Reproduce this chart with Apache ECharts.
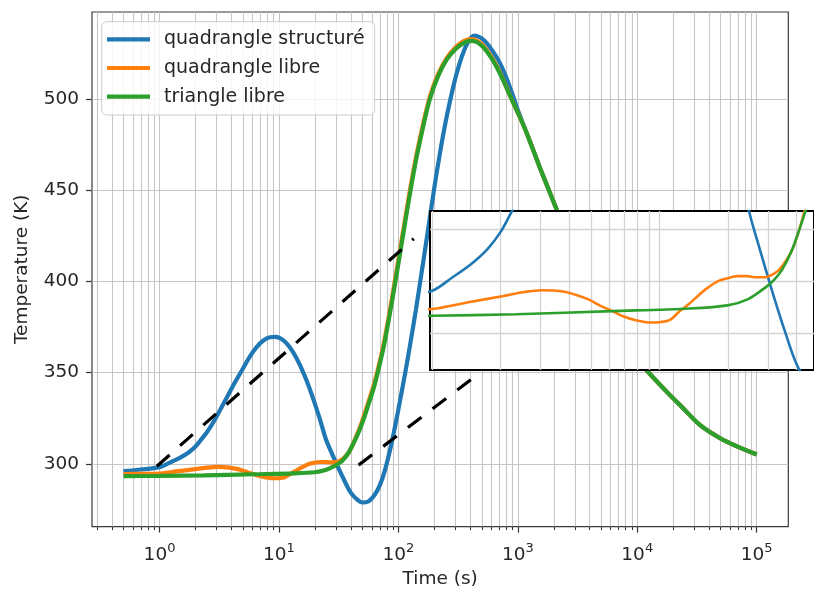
<!DOCTYPE html>
<html><head><meta charset="utf-8">
<script src="https://cdn.jsdelivr.net/npm/echarts@6/dist/echarts.min.js"></script>
<style>html,body{margin:0;padding:0;background:#fff}#c{width:814px;height:594px}</style>
</head><body><div id="c"></div>
<script>
// ---- data ----
const seriesNames = ['quadrangle structuré', 'quadrangle libre', 'triangle libre'];
const seriesColors = ['#1f77b4', '#ff7f0e', '#2ca02c'];

const blueTime = [0.5, 0.7, 1.0, 1.23, 1.49, 1.75, 2.0, 2.2, 2.5, 2.82, 3.2, 3.65, 4.25, 5.0, 5.7, 6.5, 7.4, 8.4, 9.4, 10.5, 11.6, 13.2, 15, 17, 19.4, 22, 24.8, 27.5, 31.3, 35.6, 39.9, 45, 50, 56, 63, 70, 77, 86, 94, 103, 114, 125, 140, 152, 178, 200, 222, 245, 270, 300, 327, 355, 384, 410, 437, 490, 547, 620, 707, 800, 886, 1000, 1184, 1528, 2110, 2979, 4217, 5957, 8433, 11950, 17600, 24200, 33400, 49100, 67700, 100000];
const blueTemp = [296.0, 296.9, 298.2, 300.8, 303.4, 306.2, 309.5, 312.8, 317.5, 322.8, 329.3, 336.2, 344.3, 352.3, 358.8, 364.0, 367.6, 369.4, 369.6, 368.4, 366.0, 361.0, 354.1, 345.8, 335.5, 324.5, 313.2, 306.3, 298.0, 290.3, 284.2, 280.5, 278.8, 279.4, 282.8, 288.3, 296.3, 308.8, 320.8, 334.2, 349.8, 364.8, 384.3, 399.4, 429.2, 451.5, 469.7, 485.3, 498.6, 511.4, 520.0, 526.6, 531.4, 534.0, 534.8, 533.6, 530.8, 526.0, 519.8, 511.8, 504.0, 494.0, 481.5, 462.5, 439.6, 415.9, 395.4, 377.9, 363.3, 351.4, 339.6, 330.5, 321.4, 314.2, 309.7, 305.1];

const orangeTime = [0.5, 0.7, 1.0, 1.44, 2.06, 2.5, 3.04, 3.69, 4.3, 4.94, 5.5, 6.19, 6.9, 7.77, 9.14, 10.1, 11.1, 12.2, 13.4, 14.8, 16.3, 18, 19.9, 21.9, 24.2, 26.6, 29, 31.3, 33.5, 35.6, 38, 40.8, 44, 47.5, 51.2, 56, 62.1, 68, 75.3, 81.5, 88.4, 96, 103.7, 115, 128, 142, 162, 183.5, 215, 253, 300, 348, 396, 450, 513, 600, 707, 800, 886, 1000, 1184, 1528, 2110, 2979, 4217, 5957, 8433, 11950, 17600, 24200, 33400, 49100, 67700, 100000];
const orangeTemp = [294.4, 294.5, 294.7, 296.0, 297.2, 297.9, 298.3, 298.1, 297.4, 296.4, 295.3, 294.3, 293.3, 292.6, 292.1, 292.2, 292.6, 294.2, 295.6, 297.3, 298.8, 300.0, 300.6, 301.0, 301.0, 300.8, 300.8, 301.3, 302.2, 303.7, 305.8, 309.5, 314.5, 319.8, 325.8, 333.8, 343.0, 353.0, 365.8, 377.8, 391.0, 405.0, 418.2, 436.0, 454.0, 469.8, 487.0, 501.3, 513.6, 522.3, 528.3, 531.6, 532.9, 532.2, 529.3, 523.2, 514.6, 506.8, 500.0, 492.5, 481.5, 462.5, 439.6, 415.9, 395.4, 377.9, 363.3, 351.4, 339.6, 330.5, 321.4, 314.2, 309.7, 305.1];

const greenTime = [0.5, 1.0, 2.34, 6.19, 13.5, 19.9, 24.5, 29.3, 32, 34.5, 38, 40.8, 44, 47.5, 51.2, 56, 62.1, 68, 75.3, 81.5, 88.4, 96, 103.7, 115, 128, 142, 162, 183.5, 215, 253, 300, 348, 396, 450, 513, 600, 707, 800, 886, 1000, 1184, 1528, 2110, 2979, 4217, 5957, 8433, 11950, 17600, 24200, 33400, 49100, 67700, 100000];
const greenTemp = [293.3, 293.4, 293.7, 294.3, 294.8, 295.4, 296.6, 298.9, 300.4, 302.2, 305.8, 309.5, 313.8, 318.8, 324.5, 332.3, 341.5, 351.5, 364.0, 376.0, 389.0, 402.8, 416.0, 434.0, 452.0, 468.0, 485.5, 500.0, 512.5, 521.4, 527.3, 530.5, 531.9, 531.3, 528.5, 522.5, 514.1, 506.5, 500.0, 492.5, 481.5, 462.5, 439.6, 415.9, 395.4, 377.9, 363.3, 351.4, 339.6, 330.5, 321.4, 314.2, 309.7, 305.1];

// dashed connector lines of the zoom inset
const connector1Time = [0.95, 134.5];
const connector1Temp = [298.7, 423.4];
const connector2Time = [46.4, 437];
const connector2Temp = [299.3, 347.8];

// ticks
const xMajorTicks = [1, 10, 100, 1000, 10000, 100000];
const yMajorTicks = [300, 350, 400, 450, 500];
const insetYTicks = [290, 300, 310];
const xMinorTicks = [];
for (let e = -1; e <= 4; e++) {
  for (let m = 2; m <= 9; m++) {
    const v = Number((m * Math.pow(10, e)).toPrecision(6));
    if (v > 0.272 && v < 184000) xMinorTicks.push(v);
  }
}
const insetXTicks = [1, 2, 3, 4, 5, 6, 7, 8, 9, 10, 20, 30, 40];

// ---- chart ----
const FONT = 'DejaVu Sans';
const TXT = '#262626';
const GRIDC = '#c6c6c6';
const SMOOTH = 0.3;
const zip = (xs, ys) => xs.map((x, i) => [x, ys[i]]);
const curves = [zip(blueTime, blueTemp), zip(orangeTime, orangeTemp), zip(greenTime, greenTemp)];

const series = [];
curves.forEach((d, i) => {
  series.push({
    type: 'line', name: seriesNames[i], xAxisIndex: 0, yAxisIndex: 0, data: d,
    symbol: 'none', showSymbol: false, smooth: SMOOTH, clip: true, z: 2,
    lineStyle: { width: 4.2, color: seriesColors[i] }, itemStyle: { color: seriesColors[i] }
  });
});
[[connector1Time, connector1Temp], [connector2Time, connector2Temp]].forEach(c => {
  series.push({
    type: 'line', xAxisIndex: 0, yAxisIndex: 0, data: zip(c[0], c[1]),
    symbol: 'none', showSymbol: false, silent: true, z: 3,
    lineStyle: { width: 3.2, color: '#000', type: [17, 14], cap: 'butt' }
  });
});
curves.forEach((d, i) => {
  series.push({
    type: 'line', name: seriesNames[i], xAxisIndex: 2, yAxisIndex: 1, data: d,
    symbol: 'none', showSymbol: false, smooth: SMOOTH, clip: true, z: 12,
    lineStyle: { width: 2.6, color: seriesColors[i] }, itemStyle: { color: seriesColors[i] }
  });
});

const chart = echarts.init(document.getElementById('c'), null, { renderer: 'canvas' });
chart.setOption({
  animation: false,
  backgroundColor: '#fff',
  textStyle: { fontFamily: FONT },
  color: seriesColors,
  grid: [
    { left: 92, top: 12, width: 696.3, height: 517.3, show: true, backgroundColor: 'transparent', borderColor: '#3a3a3a', borderWidth: 1.2, z: 0 },
    { left: 430, top: 211, width: 400, height: 159, show: true, backgroundColor: '#fff', borderColor: '#000', borderWidth: 2, z: 10 }
  ],
  legend: {
    data: seriesNames, orient: 'vertical', left: 101.7, top: 21.7,
    padding: [7.6, 10, 8.3, 5.3], itemWidth: 43, itemHeight: 4.2, itemGap: 8.7, icon: 'rect',
    textStyle: { fontSize: 19, fontFamily: FONT, color: TXT, lineHeight: 20, padding: [0, 0, 0, 9] },
    backgroundColor: 'rgba(255,255,255,0.8)', borderColor: '#cccccc', borderWidth: 1, borderRadius: 5
  },
  xAxis: [
    {
      type: 'log', logBase: 10, gridIndex: 0, min: 0.272, max: 184000,
      axisLine: { show: false },
      axisTick: { show: true, customValues: xMajorTicks, length: 6, lineStyle: { color: '#333', width: 1.2 } },
      axisLabel: {
        customValues: xMajorTicks, margin: 16,
        formatter: v => '{b|10}{s|' + Math.round(Math.log10(v)) + '}',
        rich: {
          b: { fontSize: 18.5, lineHeight: 26, fontFamily: FONT, color: TXT },
          s: { fontSize: 13, lineHeight: 14, verticalAlign: 'top', fontFamily: FONT, color: TXT }
        }
      },
      splitLine: { show: true, lineStyle: { color: GRIDC, width: 1.1 } },
      name: 'Time (s)', nameLocation: 'middle', nameGap: 43,
      nameTextStyle: { fontSize: 18.5, fontFamily: FONT, color: TXT }
    },
    {
      type: 'log', logBase: 10, gridIndex: 0, min: 0.272, max: 184000, position: 'bottom',
      axisLine: { show: false },
      axisTick: { show: true, customValues: xMinorTicks, length: 3.5, lineStyle: { color: '#333', width: 1 } },
      axisLabel: { show: false },
      splitLine: { show: true, lineStyle: { color: GRIDC, width: 1.1 } }
    },
    {
      type: 'log', logBase: 10, gridIndex: 1, min: 0.978, max: 47.7, z: 11,
      axisLine: { show: false },
      axisTick: { show: false, customValues: insetXTicks },
      axisLabel: { show: false },
      splitLine: { show: true, lineStyle: { color: '#d4d4d4', width: 1.3 } }
    }
  ],
  yAxis: [
    {
      type: 'value', gridIndex: 0, min: 265.6, max: 547.7,
      axisLine: { show: false },
      axisTick: { show: true, customValues: yMajorTicks, length: 6, lineStyle: { color: '#333', width: 1.2 } },
      axisLabel: { customValues: yMajorTicks, margin: 13, fontSize: 18.5, fontFamily: FONT, color: TXT },
      splitLine: { show: true, lineStyle: { color: GRIDC, width: 1.1 } },
      name: 'Temperature (K)', nameLocation: 'middle', nameGap: 60,
      nameTextStyle: { fontSize: 18.5, fontFamily: FONT, color: TXT }
    },
    {
      type: 'value', gridIndex: 1, min: 283, max: 313.5, z: 11,
      axisLine: { show: false },
      axisTick: { show: false, customValues: insetYTicks },
      axisLabel: { show: false },
      splitLine: { show: true, lineStyle: { color: '#d4d4d4', width: 1.3 } }
    }
  ],
  series: series
});
</script>
</body></html>
